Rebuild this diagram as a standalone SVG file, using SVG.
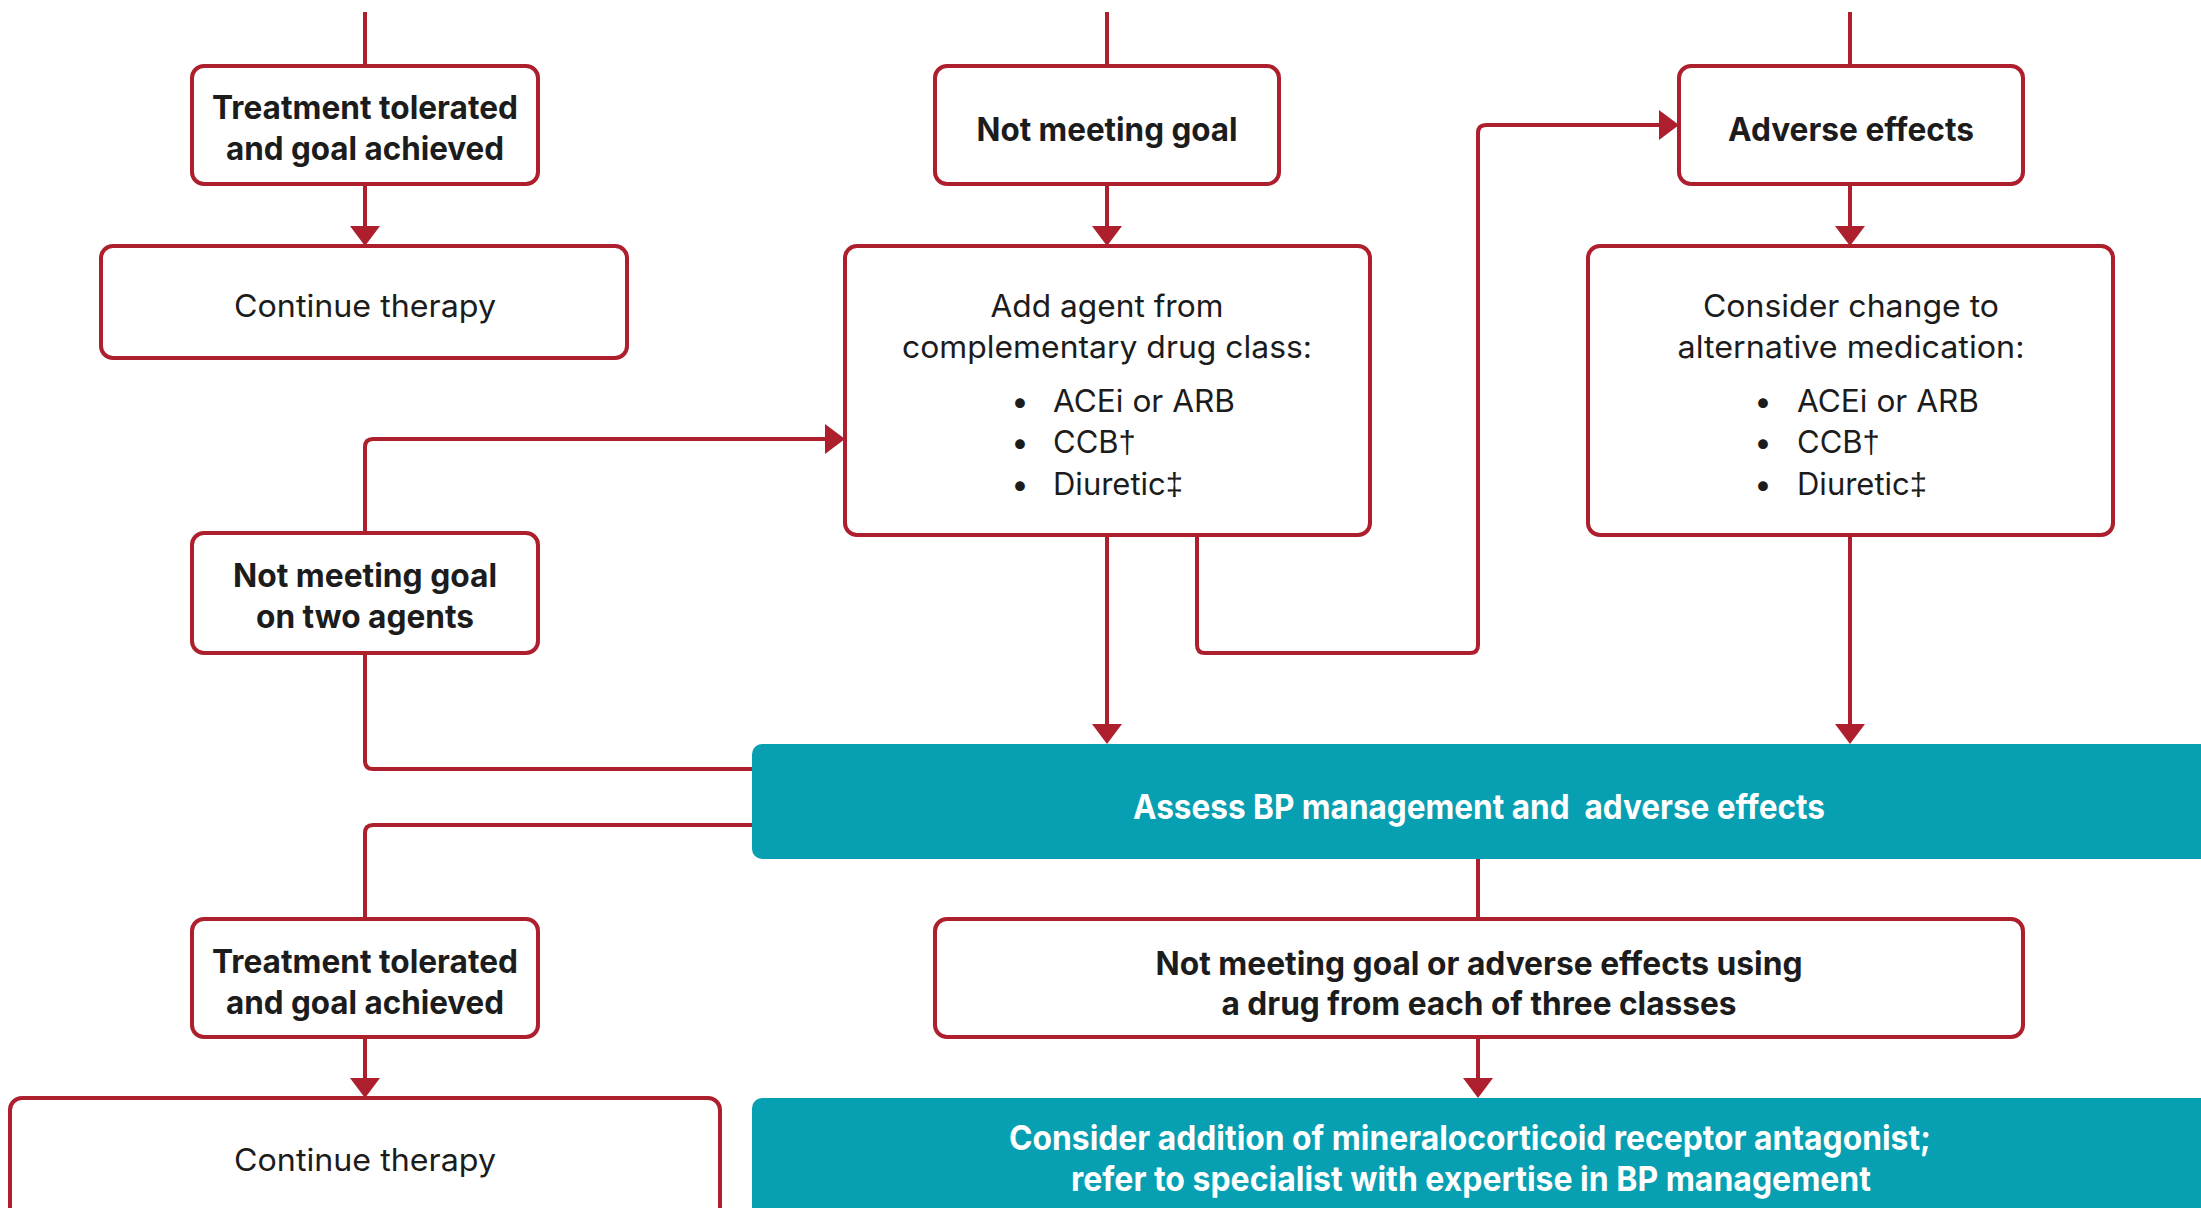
<svg xmlns="http://www.w3.org/2000/svg" width="2201" height="1208" viewBox="0 0 2201 1208">
<defs>
<style>
.box{fill:#fff;stroke:#AE1F2D;stroke-width:4}
.teal{fill:#06A0B2}
.ln{fill:none;stroke:#AE1F2D;stroke-width:4}
.t{font-family:Inter,"Liberation Sans",sans-serif;fill:#1c1c1c}
.b{font-weight:700;font-size:32px;text-anchor:middle}
.r{font-weight:400;font-size:31px;text-anchor:middle}
.l{font-weight:400;font-size:31px;text-anchor:start}
.d{font-weight:400;font-size:31px;text-anchor:middle}
.g{font-family:"Liberation Sans",sans-serif}
.w{font-family:Inter,"Liberation Sans",sans-serif;font-weight:700;font-size:34px;fill:#fff;text-anchor:middle;white-space:pre}
</style>
<marker id="ah" markerUnits="userSpaceOnUse" markerWidth="20" markerHeight="30" viewBox="0 0 20 30" refX="12" refY="15" orient="auto">
<path d="M0,0 L20,15 L0,30 Z" fill="#AE1F2D"/>
</marker>
</defs>
<rect width="2201" height="1208" fill="#fff"/>

<g id="connectors">
<path class="ln" d="M365,12 V66"/>
<path class="ln" d="M1107,12 V66"/>
<path class="ln" d="M1850,12 V66"/>
<path class="ln" d="M365,184 V238" marker-end="url(#ah)"/>
<path class="ln" d="M1107,184 V238" marker-end="url(#ah)"/>
<path class="ln" d="M1850,184 V238" marker-end="url(#ah)"/>
<path class="ln" d="M1197,535 V645 Q1197,653 1205,653 H1470 Q1478,653 1478,645 V133 Q1478,125 1486,125 H1671" marker-end="url(#ah)"/>
<path class="ln" d="M365,533 V447 Q365,439 373,439 H837" marker-end="url(#ah)"/>
<path class="ln" d="M1107,535 V736" marker-end="url(#ah)"/>
<path class="ln" d="M1850,535 V736" marker-end="url(#ah)"/>
<path class="ln" d="M365,653 V761 Q365,769 373,769 H754"/>
<path class="ln" d="M754,825 H373 Q365,825 365,833 V919"/>
<path class="ln" d="M1478,859 V919"/>
<path class="ln" d="M1478,1037 V1090" marker-end="url(#ah)"/>
<path class="ln" d="M365,1037 V1090" marker-end="url(#ah)"/>
</g>

<g id="n-tolerated-1">
<rect class="box" x="192" y="66" width="346" height="118" rx="12"/>
<text class="t b" x="365" y="119" textLength="306" lengthAdjust="spacingAndGlyphs">Treatment tolerated</text>
<text class="t b" x="365" y="160" textLength="278" lengthAdjust="spacingAndGlyphs">and goal achieved</text>
</g>
<g id="n-continue-1">
<rect class="box" x="101" y="246" width="526" height="112" rx="12"/>
<text class="t r" x="365" y="317" textLength="262" lengthAdjust="spacingAndGlyphs">Continue therapy</text>
</g>
<g id="n-notgoal">
<rect class="box" x="935" y="66" width="344" height="118" rx="12"/>
<text class="t b" x="1107" y="141" textLength="261" lengthAdjust="spacingAndGlyphs">Not meeting goal</text>
</g>
<g id="n-addagent">
<rect class="box" x="845" y="246" width="525" height="289" rx="12"/>
<text class="t r" x="1107" y="317" textLength="233" lengthAdjust="spacingAndGlyphs">Add agent from</text>
<text class="t r" x="1107" y="358" textLength="410" lengthAdjust="spacingAndGlyphs">complementary drug class:</text>
<text class="t d" x="1020" y="412">•</text>
<text class="t d" x="1020" y="453">•</text>
<text class="t d" x="1020" y="495">•</text>
<text class="t l" x="1053" y="412" textLength="182" lengthAdjust="spacingAndGlyphs">ACEi or ARB</text>
<text class="t l" x="1053" y="453">CCB<tspan class="g">†</tspan></text>
<text class="t l" x="1053" y="495">Diuretic<tspan class="g">‡</tspan></text>
</g>
<g id="n-adverse">
<rect class="box" x="1679" y="66" width="344" height="118" rx="12"/>
<text class="t b" x="1851" y="141" textLength="246" lengthAdjust="spacingAndGlyphs">Adverse effects</text>
</g>
<g id="n-change">
<rect class="box" x="1588" y="246" width="525" height="289" rx="12"/>
<text class="t r" x="1851" y="317" textLength="296" lengthAdjust="spacingAndGlyphs">Consider change to</text>
<text class="t r" x="1851" y="358" textLength="347" lengthAdjust="spacingAndGlyphs">alternative medication:</text>
<text class="t d" x="1763" y="412">•</text>
<text class="t d" x="1763" y="453">•</text>
<text class="t d" x="1763" y="495">•</text>
<text class="t l" x="1797" y="412" textLength="182" lengthAdjust="spacingAndGlyphs">ACEi or ARB</text>
<text class="t l" x="1797" y="453">CCB<tspan class="g">†</tspan></text>
<text class="t l" x="1797" y="495">Diuretic<tspan class="g">‡</tspan></text>
</g>
<g id="n-twoagents">
<rect class="box" x="192" y="533" width="346" height="120" rx="12"/>
<text class="t b" x="365" y="587" textLength="264" lengthAdjust="spacingAndGlyphs">Not meeting goal</text>
<text class="t b" x="365" y="628" textLength="218" lengthAdjust="spacingAndGlyphs">on two agents</text>
</g>
<g id="n-assess">
<rect class="teal" x="752" y="744" width="1480" height="115" rx="10"/>
<text class="w" x="1479" y="819" textLength="692" lengthAdjust="spacingAndGlyphs" xml:space="preserve">Assess BP management and  adverse effects</text>
</g>
<g id="n-tolerated-2">
<rect class="box" x="192" y="919" width="346" height="118" rx="12"/>
<text class="t b" x="365" y="973" textLength="306" lengthAdjust="spacingAndGlyphs">Treatment tolerated</text>
<text class="t b" x="365" y="1014" textLength="278" lengthAdjust="spacingAndGlyphs">and goal achieved</text>
</g>
<g id="n-continue-2">
<rect class="box" x="10" y="1098" width="710" height="150" rx="12"/>
<text class="t r" x="365" y="1171" textLength="262" lengthAdjust="spacingAndGlyphs">Continue therapy</text>
</g>
<g id="n-threeclasses">
<rect class="box" x="935" y="919" width="1088" height="118" rx="12"/>
<text class="t b" x="1479" y="975" textLength="647" lengthAdjust="spacingAndGlyphs">Not meeting goal or adverse effects using</text>
<text class="t b" x="1479" y="1015" textLength="515" lengthAdjust="spacingAndGlyphs">a drug from each of three classes</text>
</g>
<g id="n-mra">
<rect class="teal" x="752" y="1098" width="1480" height="150" rx="10"/>
<text class="w" x="1470" y="1150" textLength="922" lengthAdjust="spacingAndGlyphs">Consider addition of mineralocorticoid receptor antagonist;</text>
<text class="w" x="1471" y="1191" textLength="800" lengthAdjust="spacingAndGlyphs">refer to specialist with expertise in BP management</text>
</g>
</svg>
